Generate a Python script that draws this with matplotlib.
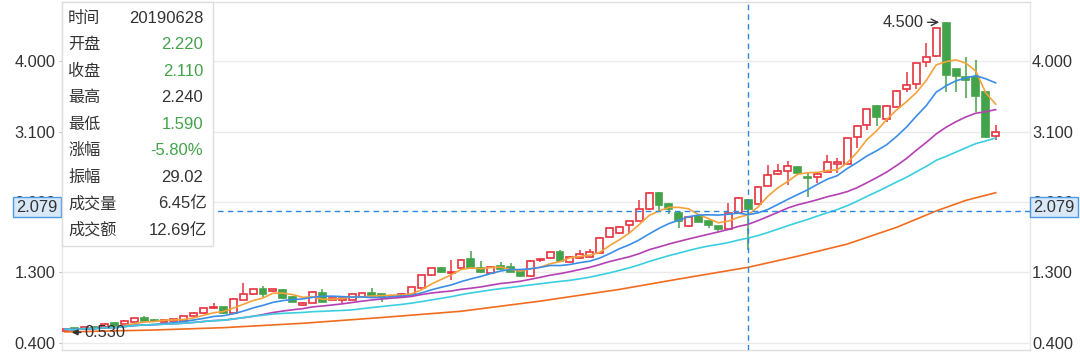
import numpy as np
import pandas as pd
import matplotlib
matplotlib.use("Agg")
import matplotlib.pyplot as plt
from matplotlib.patches import Rectangle

# ---------------- data ----------------
opens = [0.55, 0.58, 0.577, 0.60, 0.595, 0.654, 0.637, 0.666, 0.71, 0.69,
         0.666, 0.68, 0.68, 0.74, 0.774, 0.838, 0.85, 0.784, 0.95, 1.015,
         1.08, 1.06, 1.072, 0.986, 0.876, 0.91, 1.04, 0.944, 0.95, 0.95,
         0.986, 1.03, 1.017, 0.99, 0.999, 1.012, 1.104, 1.26, 1.35, 1.286,
         1.35, 1.463, 1.35, 1.286, 1.38, 1.37, 1.32, 1.25, 1.456, 1.478,
         1.563, 1.434, 1.478, 1.498, 1.546, 1.757, 1.80, 1.904, 1.962, 2.105,
         2.318, 2.173, 2.062, 1.892, 2.02, 1.956, 1.892, 1.85, 2.062, 2.22,
         2.171, 2.404, 2.554, 2.596, 2.651, 2.515, 2.523, 2.587, 2.69, 2.686,
         3.035, 3.185, 3.428, 3.258, 3.419, 3.642, 3.71, 3.995, 4.068, 4.495,
         3.898, 3.803, 3.803, 3.611, 3.044]
closes = [0.57, 0.56, 0.602, 0.58, 0.637, 0.602, 0.679, 0.71, 0.68, 0.67,
          0.69, 0.695, 0.74, 0.78, 0.838, 0.85, 0.774, 0.96, 1.02, 1.08,
          1.017, 1.08, 0.966, 0.922, 0.91, 1.05, 0.922, 0.966, 0.965, 1.015,
          1.034, 0.999, 0.986, 1.00, 1.017, 1.11, 1.26, 1.35, 1.303, 1.307,
          1.456, 1.358, 1.30, 1.37, 1.34, 1.306, 1.25, 1.45, 1.475, 1.559,
          1.444, 1.498, 1.533, 1.555, 1.738, 1.872, 1.883, 1.956, 2.105, 2.318,
          2.16, 2.109, 1.96, 2.011, 1.947, 1.90, 1.85, 2.062, 2.254, 2.11,
          2.397, 2.545, 2.60, 2.66, 2.566, 2.50, 2.564, 2.715, 2.705, 3.015,
          3.172, 3.386, 3.283, 3.428, 3.624, 3.697, 3.975, 4.06, 4.423, 3.825,
          3.812, 3.761, 3.556, 3.035, 3.10]
highs = [0.58, 0.59, 0.61, 0.61, 0.645, 0.66, 0.69, 0.72, 0.74, 0.70,
         0.70, 0.70, 0.745, 0.79, 0.845, 0.90, 0.86, 0.965, 1.168, 1.09,
         1.127, 1.085, 1.08, 0.99, 0.915, 1.06, 1.08, 0.975, 0.97, 1.02,
         1.04, 1.094, 1.025, 1.005, 1.03, 1.115, 1.265, 1.355, 1.368, 1.456,
         1.465, 1.572, 1.45, 1.375, 1.435, 1.414, 1.325, 1.455, 1.475, 1.565,
         1.585, 1.505, 1.59, 1.603, 1.745, 1.88, 1.89, 1.96, 2.224, 2.325,
         2.325, 2.18, 2.07, 2.02, 2.025, 1.96, 1.895, 2.182, 2.26, 2.24,
         2.40, 2.673, 2.686, 2.724, 2.655, 2.587, 2.57, 2.80, 2.762, 3.02,
         3.18, 3.39, 3.435, 3.435, 3.63, 3.867, 3.98, 4.239, 4.43, 4.50,
         3.905, 4.059, 4.017, 3.62, 3.185]
lows = [0.53, 0.55, 0.57, 0.57, 0.59, 0.595, 0.63, 0.66, 0.67, 0.665,
        0.66, 0.675, 0.675, 0.735, 0.77, 0.835, 0.77, 0.78, 0.945, 1.01,
        0.986, 1.05, 0.96, 0.915, 0.87, 0.905, 0.915, 0.94, 0.905, 0.945,
        0.98, 0.966, 0.922, 0.985, 0.995, 1.005, 1.10, 1.255, 1.29, 1.20,
        1.345, 1.35, 1.29, 1.28, 1.335, 1.30, 1.245, 1.245, 1.43, 1.47,
        1.435, 1.43, 1.47, 1.49, 1.54, 1.75, 1.795, 1.802, 1.955, 2.10,
        2.075, 2.045, 1.862, 1.885, 1.94, 1.86, 1.815, 1.845, 2.055, 1.59,
        2.165, 2.40, 2.55, 2.417, 2.56, 2.267, 2.442, 2.58, 2.57, 2.68,
        2.887, 3.12, 3.172, 3.227, 3.41, 3.611, 3.642, 3.931, 4.06, 3.611,
        3.611, 3.527, 3.355, 3.018, 2.993]

# MA60 line (depends on history before the first bar)
ma60_idx = [0, 9, 16, 24, 32, 40, 48, 56, 62, 69, 74, 79, 84, 88, 91, 94]
ma60_val = [0.535, 0.56, 0.59, 0.646, 0.72, 0.80, 0.93, 1.08, 1.213, 1.363,
            1.505, 1.66, 1.875, 2.085, 2.22, 2.318]

ma_windows = [5, 10, 20, 30]
yticks = [0.4, 1.3, 2.2, 3.1, 4.0]

cross_index = 69
cross_price = 2.079
max_index, max_price = 89, 4.500
min_index, min_price = 0, 0.530

tip_labels = ["时间", "开盘", "收盘", "最高", "最低", "涨幅", "振幅", "成交量", "成交额"]
tip_values = ["20190628", "2.220", "2.110", "2.240", "1.590", "-5.80%", "29.02", "6.45亿", "12.69亿"]
tip_green = [False, True, True, False, True, True, False, False, False]

# ---------------- style ----------------
RED = "#e8323f"
GREEN = "#43a34a"
MA_COLORS = ["#f5a23a", "#3a8ee8", "#b440b4", "#3acfe0"]
MA60_COLOR = "#f26c1f"
CROSS = "#2f86e0"
TXT = "#333333"
NUMF = ["Liberation Sans", "Noto Sans CJK SC", "DejaVu Sans"]
CJKF = ["Noto Sans CJK SC", "DejaVu Sans"]

W, H = 1080, 354
fig = plt.figure(figsize=(W / 100, H / 100), dpi=100)
L, R, T, B = 62, 1030, 2, 350
ax = fig.add_axes([L / W, 1 - B / H, (R - L) / W, (B - T) / H])

o = np.array(opens); c = np.array(closes); h = np.array(highs); l = np.array(lows)
idx = np.arange(len(c))
up = c >= o

# wicks
wcol = [RED if u else GREEN for u in up]
ax.vlines(idx, l, h, colors=wcol, linewidth=1.1, zorder=2)
# bodies
bw = 0.7
hgt = np.maximum(np.abs(c - o), 0.008)
bot = np.minimum(o, c)
ax.bar(idx[up], hgt[up], bottom=bot[up], width=bw, facecolor="white",
       edgecolor=RED, linewidth=1.2, zorder=3)
ax.bar(idx[~up], hgt[~up], bottom=bot[~up], width=bw, facecolor=GREEN,
       edgecolor=GREEN, linewidth=1.2, zorder=3)

# moving averages
s = pd.Series(c)
for n, col in zip(ma_windows, MA_COLORS):
    ax.plot(idx, s.rolling(n, min_periods=1).mean(), color=col, lw=1.2, zorder=4)
ax.plot(ma60_idx, ma60_val, color=MA60_COLOR, lw=1.2, zorder=4)

# axes
ax.set_xlim(-0.303, 97.47)
ax.set_ylim(0.304, 4.760)
ax.set_xticks([])
ax.set_yticks(yticks)
ax.set_yticklabels([f"{v:.3f}" for v in yticks], fontsize=11.8, color=TXT, family=NUMF)
ax.tick_params(axis="y", length=2, color="#bbbbbb", pad=2.9)
ax.grid(axis="y", color="#ebebeb", lw=1, zorder=0)
ax.set_axisbelow(True)
for side, col in [("left", "#e6e6e6"), ("right", "#e6e6e6"), ("top", "#dddddd"), ("bottom", "#dddddd")]:
    ax.spines[side].set_color(col)
    ax.spines[side].set_linewidth(1)

ax2 = ax.twinx()
ax2.set_ylim(ax.get_ylim())
ax2.set_yticks(yticks)
ax2.set_yticklabels([f"{v:.3f}" for v in yticks], fontsize=11.8, color=TXT, family=NUMF)
ax2.tick_params(axis="y", length=0, pad=1.5)
for sp in ax2.spines.values():
    sp.set_visible(False)

# crosshair
ax.axvline(cross_index, color=CROSS, lw=1, ls=(0, (4, 3)), zorder=6)
ax.axhline(cross_price, color=CROSS, lw=1, ls=(0, (4, 3)), zorder=6)

# extreme annotations
ax.annotate(f"{max_price:.3f}", xy=(max_index - 0.7, max_price), xytext=(max_index - 2.3, max_price),
            ha="right", va="center", fontsize=11.8, color=TXT, family=NUMF,
            arrowprops=dict(arrowstyle="->", color=TXT, lw=1, shrinkA=1, shrinkB=0), zorder=7)
ax.annotate(f"{min_price:.3f}", xy=(min_index + 0.67, min_price), xytext=(min_index + 2.0, min_price),
            ha="left", va="center", fontsize=11.8, color=TXT, family=NUMF,
            arrowprops=dict(arrowstyle="-|>", color=TXT, lw=1.2, shrinkA=1, shrinkB=0,
                            mutation_scale=8), zorder=7)


def fx(x):
    return x / W


def fy(y):
    return 1 - y / H


# price boxes at crosshair
for x0, x1 in [(13, 61), (1030, 1078)]:
    fig.add_artist(Rectangle((fx(x0), fy(217)), (x1 - x0) / W, 20 / H, transform=fig.transFigure,
                             facecolor="#d9e8f8", edgecolor="#4b9be6", lw=1, zorder=10))
    fig.text(fx((x0 + x1) / 2), fy(207.5), f"{cross_price:.3f}", ha="center", va="center",
             fontsize=11.8, color=TXT, family=NUMF, zorder=11)

# tooltip
fig.add_artist(Rectangle((fx(62), fy(246)), 151 / W, 244 / H, transform=fig.transFigure,
                         facecolor="white", edgecolor="#dddddd", lw=1, zorder=10))
for k, (lab, val, g) in enumerate(zip(tip_labels, tip_values, tip_green)):
    yy = 18.5 + 26.45 * k
    fig.text(fx(68), fy(yy), lab, ha="left", va="center", fontsize=11.6, color=TXT,
             family=CJKF, zorder=11)
    xr = 207 if val.endswith("亿") else 203
    fig.text(fx(xr), fy(yy), val, ha="right", va="center", fontsize=12,
             color=GREEN if g else TXT, family=NUMF, zorder=11)

fig.savefig("out.png", dpi=100)
